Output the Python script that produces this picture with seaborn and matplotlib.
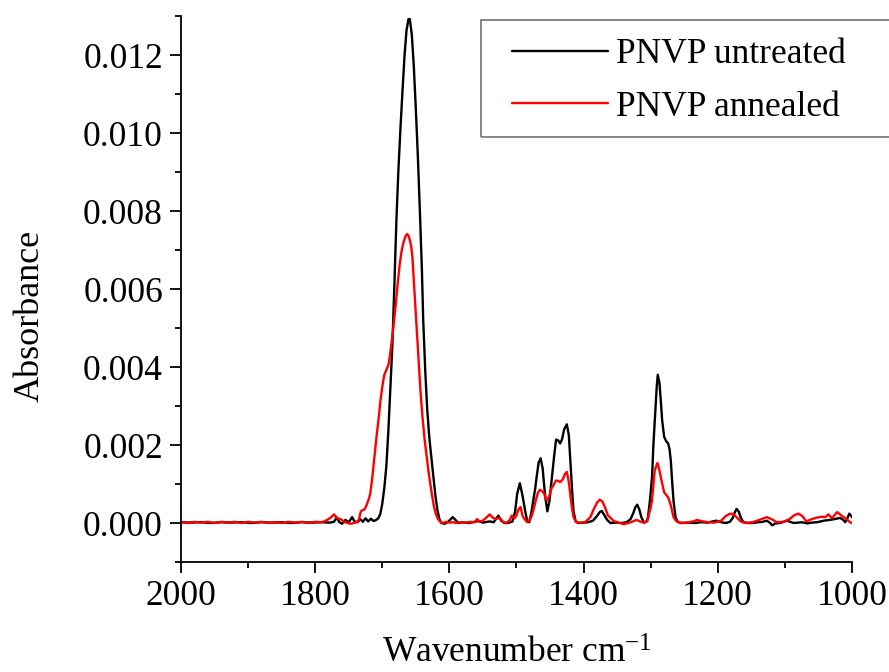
import numpy as np
import pandas as pd
import seaborn as sns
import matplotlib
matplotlib.use("Agg")
import matplotlib.pyplot as plt
from matplotlib.ticker import MultipleLocator, FormatStrFormatter
from matplotlib.patches import Rectangle

# ---------------- data ----------------
untreated_wn = [2000, 1985, 1970, 1955, 1940, 1925, 1910, 1895, 1880, 1865, 1850, 1835, 1820, 1805, 1790,
                1778, 1772, 1768, 1764, 1760, 1755, 1750, 1745, 1741, 1737, 1733, 1729, 1725, 1721, 1717,
                1713, 1709, 1706, 1703, 1700, 1697, 1694, 1691, 1688, 1685, 1682, 1679, 1676, 1673, 1670,
                1667, 1664, 1661, 1659, 1656, 1653, 1650, 1647, 1644, 1641, 1639, 1636, 1633, 1630, 1627,
                1624, 1621, 1618, 1615, 1612, 1607, 1602, 1598, 1595, 1591, 1587, 1580, 1572, 1565, 1557,
                1550, 1544, 1540, 1534, 1530, 1527, 1523, 1518, 1512, 1506, 1502, 1499, 1495, 1491, 1487,
                1484, 1481, 1478, 1475, 1472, 1470, 1467, 1464, 1461, 1459, 1457, 1454, 1451, 1448, 1444,
                1441, 1438, 1435, 1432, 1429, 1425, 1422, 1420, 1417, 1415, 1412, 1408, 1400, 1393, 1386,
                1380, 1376, 1373, 1369, 1365, 1360, 1352, 1344, 1336, 1330, 1326, 1323, 1320, 1317, 1314,
                1310, 1306, 1304, 1301, 1298, 1296, 1293, 1291, 1289.5, 1287, 1285, 1283, 1280, 1277, 1274,
                1272, 1270, 1268, 1266, 1263, 1260, 1255, 1245, 1235, 1225, 1215, 1208, 1202, 1195, 1188,
                1182, 1178, 1175, 1172, 1169, 1166, 1162, 1155, 1147, 1140, 1133, 1127, 1122, 1119, 1114,
                1107, 1100, 1097, 1092, 1087, 1080, 1075, 1067, 1060, 1052, 1042, 1033, 1026, 1018, 1013,
                1010, 1007, 1004, 1001, 1000]
untreated_abs = [0.00002, 0.00001, 0.00002, 0.00000, 0.00002, 0.00001, 0.00002, 0.00000, 0.00002, 0.00001,
                 0.00002, 0.00000, 0.00002, 0.00001, 0.00002,
                 0.00001, 0.00003, 0.00014, 0.00002, -0.00002, 0.00008, 0.00002, 0.00015, 0.00003, 0.00002,
                 0.00010, 0.00003, 0.00012, 0.00004, 0.00011,
                 0.00005, 0.00008, 0.00012, 0.00023, 0.00050, 0.00090, 0.00145, 0.00235, 0.00345, 0.00455,
                 0.00610, 0.00775, 0.00905, 0.01010, 0.01105,
                 0.01195, 0.01262, 0.01292, 0.01292, 0.01252, 0.01170, 0.01060, 0.00940, 0.00800, 0.00650,
                 0.00520, 0.00390, 0.00290, 0.00220, 0.00170,
                 0.00120, 0.00072, 0.00035, 0.00010, 0.00000, -0.00002, 0.00003, 0.00010, 0.00015, 0.00008,
                 0.00000, 0.00002, 0.00000, 0.00002, 0.00005,
                 0.00001, 0.00003, 0.00004, 0.00002, 0.00012, 0.00019, 0.00006, 0.00000, 0.00000, 0.00004,
                 0.00030, 0.00075, 0.00102, 0.00070, 0.00030,
                 0.00005, 0.00002, 0.00025, 0.00058, 0.00090, 0.00118, 0.00155, 0.00166, 0.00140, 0.00100,
                 0.00065, 0.00030, 0.00055, 0.00105, 0.00170,
                 0.00214, 0.00212, 0.00204, 0.00215, 0.00240, 0.00253, 0.00225, 0.00169, 0.00080, 0.00030,
                 0.00005, 0.00000, 0.00001, 0.00002, 0.00006,
                 0.00018, 0.00028, 0.00031, 0.00020, 0.00008, 0.00000, 0.00001, 0.00000, 0.00002, 0.00010,
                 0.00025, 0.00040, 0.00047, 0.00035, 0.00015,
                 0.00001, 0.00004, 0.00015, 0.00060, 0.00118, 0.00200, 0.00289, 0.00350, 0.00380, 0.00360,
                 0.00315, 0.00265, 0.00221, 0.00210, 0.00204,
                 0.00190, 0.00159, 0.00105, 0.00057, 0.00015, 0.00003, 0.00000, 0.00001, 0.00000, 0.00002,
                 0.00001, 0.00004, 0.00006, 0.00002, 0.00000,
                 0.00003, 0.00012, 0.00026, 0.00036, 0.00030, 0.00015, 0.00002, 0.00000, 0.00000, 0.00002,
                 0.00003, 0.00006, 0.00000, -0.00006, -0.00001,
                 0.00000, 0.00004, 0.00006, 0.00003, 0.00000, 0.00001, 0.00002, -0.00001, 0.00001, 0.00002,
                 0.00006, 0.00008, 0.00010, 0.00013, 0.00008,
                 0.00002, 0.00012, 0.00024, 0.00018, 0.00015]

annealed_wn = [2000, 1990, 1980, 1970, 1960, 1950, 1940, 1930, 1920, 1910, 1900, 1890, 1880, 1870, 1860,
               1850, 1840, 1830, 1820, 1810, 1800, 1790, 1782, 1776, 1772, 1767, 1762, 1757, 1752, 1747,
               1742, 1738, 1735, 1732, 1729, 1726, 1723, 1720, 1718, 1715, 1712, 1709, 1707, 1705, 1703,
               1700, 1697, 1694, 1691, 1689, 1686, 1683, 1680, 1677, 1674, 1671, 1668, 1665, 1663, 1661,
               1659, 1657, 1655, 1653, 1651, 1649, 1646, 1643, 1640, 1637, 1634, 1631, 1628, 1626, 1623,
               1620, 1617, 1614, 1610, 1605, 1600, 1595, 1590, 1584, 1576, 1568, 1562, 1559, 1555, 1550,
               1545, 1540, 1536, 1532, 1528, 1525, 1520, 1515, 1510, 1507, 1503, 1500, 1497, 1494, 1491,
               1488, 1484, 1480, 1477, 1475, 1471, 1468, 1465, 1462, 1459, 1456, 1454, 1451, 1448, 1444,
               1441, 1438, 1435, 1431, 1428, 1425, 1422, 1420, 1417, 1415, 1411, 1405, 1398, 1393, 1390,
               1385, 1380, 1376, 1372, 1368, 1364, 1361, 1355, 1348, 1340, 1333, 1325, 1321, 1316, 1310,
               1305, 1300, 1298, 1294, 1290, 1287, 1285, 1280, 1276, 1274, 1270, 1266, 1262, 1255, 1245,
               1235, 1231, 1225, 1215, 1205, 1195, 1188, 1182, 1177, 1172, 1166, 1158, 1148, 1135, 1127,
               1120, 1112, 1102, 1093, 1086, 1080, 1074, 1068, 1060, 1052, 1045, 1040, 1035, 1030, 1022,
               1015, 1008, 1003, 1000]
annealed_abs = [0.00002, 0.00000, 0.00003, 0.00001, 0.00003, 0.00000, 0.00003, 0.00001, 0.00003, 0.00000,
                0.00003, 0.00001, 0.00003, 0.00000, 0.00002,
                0.00000, 0.00003, 0.00001, 0.00003, 0.00000, 0.00003, 0.00002, 0.00008, 0.00015, 0.00022,
                0.00012, 0.00010, 0.00003, 0.00000, -0.00002,
                0.00000, 0.00003, 0.00008, 0.00030, 0.00033, 0.00036, 0.00048, 0.00062, 0.00075, 0.00115,
                0.00165, 0.00215, 0.00245, 0.00275, 0.00310,
                0.00350, 0.00380, 0.00392, 0.00405, 0.00425, 0.00465, 0.00510, 0.00560, 0.00615, 0.00665,
                0.00700, 0.00722, 0.00737, 0.00741, 0.00737,
                0.00725, 0.00710, 0.00680, 0.00620, 0.00560, 0.00505, 0.00420, 0.00335, 0.00270, 0.00215,
                0.00172, 0.00130, 0.00095, 0.00072, 0.00042,
                0.00022, 0.00010, 0.00004, 0.00000, 0.00003, 0.00001, 0.00002, 0.00000, 0.00002, 0.00001,
                0.00003, 0.00002, 0.00010, 0.00004, 0.00006,
                0.00014, 0.00022, 0.00015, 0.00010, 0.00012, 0.00013, 0.00003, 0.00000, 0.00008, 0.00019,
                0.00012, 0.00020, 0.00035, 0.00041, 0.00018,
                0.00010, 0.00002, 0.00008, 0.00020, 0.00032, 0.00060, 0.00078, 0.00085, 0.00082, 0.00076,
                0.00062, 0.00058, 0.00070, 0.00088, 0.00100,
                0.00109, 0.00108, 0.00105, 0.00112, 0.00125, 0.00131, 0.00105, 0.00075, 0.00035, 0.00015,
                0.00002, 0.00001, 0.00002, 0.00010, 0.00015,
                0.00035, 0.00052, 0.00060, 0.00055, 0.00040, 0.00020, 0.00015, 0.00005, 0.00001, -0.00003,
                0.00000, 0.00005, 0.00008, 0.00004, 0.00001,
                0.00005, 0.00040, 0.00058, 0.00135, 0.00154, 0.00135, 0.00118, 0.00079, 0.00070, 0.00066,
                0.00045, 0.00015, 0.00005, 0.00000, 0.00001,
                0.00005, 0.00008, 0.00005, 0.00002, 0.00001, 0.00006, 0.00018, 0.00024, 0.00023, 0.00015,
                0.00004, 0.00000, 0.00002, 0.00010, 0.00015,
                0.00010, 0.00002, 0.00003, 0.00010, 0.00020, 0.00024, 0.00018, 0.00004, 0.00010, 0.00014,
                0.00016, 0.00015, 0.00022, 0.00012, 0.00028,
                0.00018, 0.00010, 0.00002, 0.00000]

series_names = ["PNVP untreated", "PNVP annealed"]
series_colors = ["#000000", "#ff0000"]
x_ticks = [2000, 1800, 1600, 1400, 1200, 1000]
y_ticks = [0.000, 0.002, 0.004, 0.006, 0.008, 0.010, 0.012]

df = pd.concat([
    pd.DataFrame({"wn": untreated_wn, "A": untreated_abs, "sample": series_names[0]}),
    pd.DataFrame({"wn": annealed_wn, "A": annealed_abs, "sample": series_names[1]}),
], ignore_index=True)

# ---------------- style ----------------
sns.set_style("ticks")
plt.rcParams["font.family"] = ["Liberation Serif", "DejaVu Serif"]
plt.rcParams["text.color"] = "black"
plt.rcParams["axes.labelcolor"] = "black"
plt.rcParams["xtick.color"] = "black"
plt.rcParams["ytick.color"] = "black"
plt.rcParams["mathtext.fontset"] = "custom"
plt.rcParams["mathtext.rm"] = "Liberation Serif"
plt.rcParams["mathtext.it"] = "Liberation Serif:italic"

W, H = 889, 672
fig = plt.figure(figsize=(W / 100, H / 100), dpi=100)
ax = fig.add_axes([181 / W, 110 / H, 671 / W, 546 / H])

sns.lineplot(data=df, x="wn", y="A", hue="sample", hue_order=series_names,
             palette=dict(zip(series_names, series_colors)), estimator=None,
             linewidth=1.7, legend=False, ax=ax)

ax.set_xlim(2000, 1000)
ax.set_ylim(-0.001, 0.013)
ax.set_xticks(x_ticks)
ax.set_yticks(y_ticks)
ax.xaxis.set_minor_locator(MultipleLocator(100))
ax.yaxis.set_minor_locator(MultipleLocator(0.001))
ax.yaxis.set_major_formatter(FormatStrFormatter("%.3f"))

for s in ["top", "right"]:
    ax.spines[s].set_visible(False)
for s in ["left", "bottom"]:
    ax.spines[s].set_linewidth(1.3)
    ax.spines[s].set_color("black")

ax.tick_params(axis="both", which="major", direction="out", length=8, width=1.3,
               labelsize=25.5, colors="black", pad=5)
ax.tick_params(axis="both", which="minor", direction="out", length=4.5, width=1.3)

ax.set_xlabel("Wavenumber cm$^{-1}$", fontsize=25.5, color="black")
ax.set_ylabel("Absorbance", fontsize=26, color="black")
ax.xaxis.label.set_va("baseline")
ax.xaxis.set_label_coords(0.5, (562 - 663) / 546)
ax.yaxis.set_label_coords(-0.20, 0.45)

# legend (frame drawn as a separate rectangle that runs past the right edge, as in the reference)
lines = ax.get_lines()[:2]
leg = ax.legend(lines, series_names, loc="upper left",
                bbox_to_anchor=(512 / W, 1 - 38 / H),
                bbox_transform=fig.transFigure,
                fontsize=25.5, frameon=False, borderpad=0,
                labelspacing=0.56, handlelength=2.7, handletextpad=0.25,
                borderaxespad=0)
for ln in leg.get_lines():
    ln.set_linewidth(1.7)
frame = Rectangle((481 / W, 1 - 137 / H), 0.6, 117 / H, transform=fig.transFigure,
                  fill=False, edgecolor="#707070", linewidth=1.2)
fig.add_artist(frame)

fig.savefig("out.png", dpi=100)
